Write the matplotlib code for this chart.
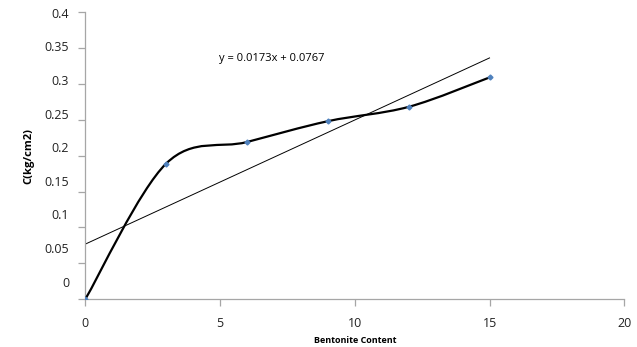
import numpy as np
import matplotlib as mpl
import matplotlib.pyplot as plt
from matplotlib.path import Path
from matplotlib.patches import PathPatch
import matplotlib.transforms as mtransforms

mpl.rcParams["font.family"] = ['Open Sans', 'DejaVu Sans']

# data
bentonite = [0, 3, 6, 9, 12, 15]
cohesion = [0.0, 0.189, 0.219, 0.248, 0.268, 0.309]
slope, intercept = 0.0173, 0.0767
xticks = [0, 5, 10, 15, 20]
yticks = [0, 0.05, 0.1, 0.15, 0.2, 0.25, 0.3, 0.35, 0.4]
ylabels = ['0', '0.05', '0.1', '0.15', '0.2', '0.25', '0.3', '0.35', '0.4']

fig = plt.figure(figsize=(6.37, 3.47), dpi=100)
ax = fig.add_axes([0.134, 0.138, 0.846, 0.827])

# excel style smoothed line (bezier through the points)
x = np.array(bentonite, dtype=float)
y = np.array(cohesion, dtype=float)
pts = np.column_stack([x, y])
n = len(pts)
verts = [pts[0]]
codes = [Path.MOVETO]
for i in range(n - 1):
    p0 = pts[max(i - 1, 0)]
    p1 = pts[i]
    p2 = pts[i + 1]
    p3 = pts[min(i + 2, n - 1)]
    c1 = p1 + (p2 - p0) / 6.0
    c2 = p2 - (p3 - p1) / 6.0
    verts += [c1, c2, p2]
    codes += [Path.CURVE4] * 3
ax.add_patch(PathPatch(Path(verts, codes), facecolor='none', edgecolor='black', lw=1.6, zorder=3))
ax.plot(x, y, ls='none', marker='D', ms=2.5, color='#4F81BD', zorder=4)

# linear trendline
xt = np.array([0, 15])
ax.plot(xt, slope * xt + intercept, color='black', lw=0.7, zorder=2)
ax.text(6.9, 0.336, 'y = 0.0173x + 0.0767', fontsize=8, ha='center', va='center')

ax.set_xlim(0, 20)
ax.set_ylim(0, 0.4)
ax.set_xticks(xticks)
ax.set_yticks(yticks)
ax.set_xticklabels([str(v) for v in xticks], fontsize=9)
ax.set_yticklabels([])
# y labels sit a little above their ticks in the original
trans = mtransforms.blended_transform_factory(ax.transAxes, ax.transData)
for v, lab in zip(yticks, ylabels):
    ax.text(-0.03, 0.0222 + 0.937 * v, lab, transform=trans, fontsize=9,
            ha='right', va='center', color='#222222')
for s in ['top', 'right']:
    ax.spines[s].set_visible(False)
for s in ['left', 'bottom']:
    ax.spines[s].set_color('#a6a6a6')
    ax.spines[s].set_linewidth(0.9)
ax.tick_params(direction='out', length=5, color='#a6a6a6', width=0.9, labelcolor='#222222', pad=8)
ax.set_xlabel('Bentonite Content', fontsize=6.5, fontweight='bold', labelpad=4)
ax.set_ylabel('C(kg/cm2)', fontsize=8, fontweight='bold', labelpad=24)

fig.savefig('out.png', dpi=100)
